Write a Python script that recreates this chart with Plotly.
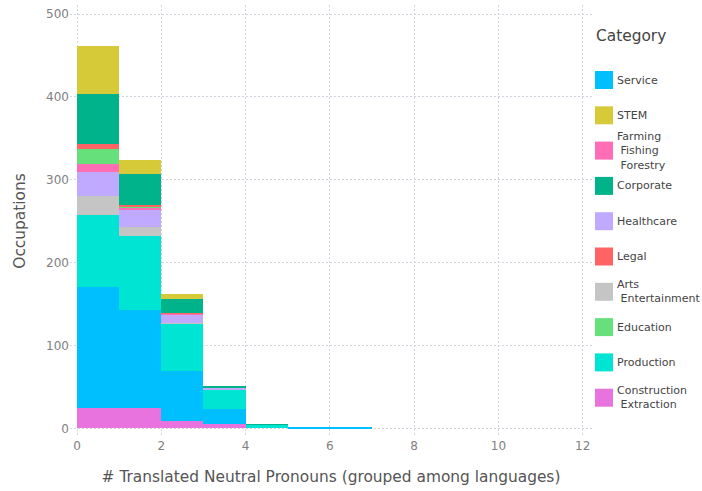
import plotly.graph_objects as go

# ---- data ----
bin_centers = [0.5, 1.5, 2.5, 3.5, 4.5, 5.5, 6.5]

# stacking order (bottom -> top)
stack_order = ["Construction Extraction", "Service", "Production", "Arts Entertainment",
               "Healthcare", "Farming Fishing Forestry", "Education", "Legal",
               "Corporate", "STEM"]

construction = [24, 24, 9, 5, 0, 0, 0]
service = [146, 119, 60, 18, 0, 1, 1]
production = [88, 89, 57, 24, 4, 0, 0]
arts = [23, 11, 1, 0, 0, 0, 0]
healthcare = [28, 20, 10, 2, 0, 0, 0]
farming = [10, 3, 1, 0, 0, 0, 0]
education = [18, 2, 0, 0, 0, 0, 0]
legal = [6, 1, 1, 0, 0, 0, 0]
corporate = [60, 38, 17, 2, 1, 0, 0]
stem = [58, 17, 6, 0, 0, 0, 0]

# legend order (top -> bottom)
legend_order = ["Service", "STEM", "Farming Fishing Forestry", "Corporate", "Healthcare",
                "Legal", "Arts Entertainment", "Education", "Production",
                "Construction Extraction"]

x_ticks = [0, 2, 4, 6, 8, 10, 12]
y_ticks = [0, 100, 200, 300, 400, 500]

values = {
    "Construction Extraction": construction,
    "Service": service,
    "Production": production,
    "Arts Entertainment": arts,
    "Healthcare": healthcare,
    "Farming Fishing Forestry": farming,
    "Education": education,
    "Legal": legal,
    "Corporate": corporate,
    "STEM": stem,
}

colors = {
    "Service": "#00BFFF",
    "STEM": "#D6CA38",
    "Farming Fishing Forestry": "#FF6EB4",
    "Corporate": "#00B38B",
    "Healthcare": "#BFAAFF",
    "Legal": "#FF6363",
    "Arts Entertainment": "#C5C5C5",
    "Education": "#66E07A",
    "Production": "#00E5D3",
    "Construction Extraction": "#E872DE",
}

FONT = "DejaVu Sans"

fig = go.Figure()
for cat in stack_order:
    fig.add_trace(go.Bar(
        x=bin_centers, y=values[cat], width=1, name=cat,
        marker=dict(color=colors[cat], line=dict(width=0)),
        showlegend=False,
    ))

# ---- manual legend (paper coords) ----
plot_l, plot_r, plot_t, plot_b = 70, 592, 5, 437
W, H = plot_r - plot_l, plot_b - plot_t

def px(xp):
    return (xp - plot_l) / W

def py(yp):
    return (plot_b - yp) / H

shapes = []
annotations = [dict(
    text="Category", x=px(594), y=py(36), xref="paper", yref="paper",
    xanchor="left", yanchor="middle", showarrow=False,
    font=dict(family=FONT, size=15.4, color="#444444"),
)]
y0 = 80.0
step = 35.3
for i, cat in enumerate(legend_order):
    cy = y0 + i * step
    shapes.append(dict(
        type="rect", xref="paper", yref="paper",
        x0=px(595), x1=px(613), y0=py(cy - 9), y1=py(cy + 9),
        fillcolor=colors[cat], line=dict(width=0),
    ))
    label = cat.replace(" ", "<br>\u00a0")
    annotations.append(dict(
        text=label, x=px(615), y=py(cy), xref="paper", yref="paper",
        xanchor="left", yanchor="middle", align="left", showarrow=False,
        font=dict(family=FONT, size=11, color="#444444"),
    ))

grid_color = "#D3D3E0"
fig.update_layout(
    width=702, height=491,
    margin=dict(l=plot_l, r=702 - plot_r, t=plot_t, b=491 - plot_b, autoexpand=False),
    paper_bgcolor="white", plot_bgcolor="white",
    barmode="stack", bargap=0,
    font=dict(family=FONT, size=12, color="#555555"),
    showlegend=False,
    shapes=shapes, annotations=annotations,
    xaxis=dict(
        range=[-0.166, 12.22], tickvals=x_ticks, showgrid=True, gridcolor=grid_color,
        griddash="1.5px,2.5px", gridwidth=1, zeroline=False, showline=False,
        ticks="", tickfont=dict(family=FONT, size=12, color="#808080"),
        title=dict(text="# Translated Neutral Pronouns (grouped among languages)",
                   font=dict(family=FONT, size=15.4, color="#555555"), standoff=19),
        automargin=False,
    ),
    yaxis=dict(
        range=[-10.5, 511], tickvals=y_ticks, showgrid=True, gridcolor=grid_color,
        griddash="1.5px,2.5px", gridwidth=1, zeroline=False, showline=False,
        ticks="", tickfont=dict(family=FONT, size=12, color="#808080"),
        title=dict(text="Occupations", font=dict(family=FONT, size=15.4, color="#555555"),
                   standoff=16),
        automargin=False,
    ),
)

fig.write_html("out.html", config={"displayModeBar": False},
               post_script="document.body.style.margin='0';document.body.style.overflow='hidden';")
